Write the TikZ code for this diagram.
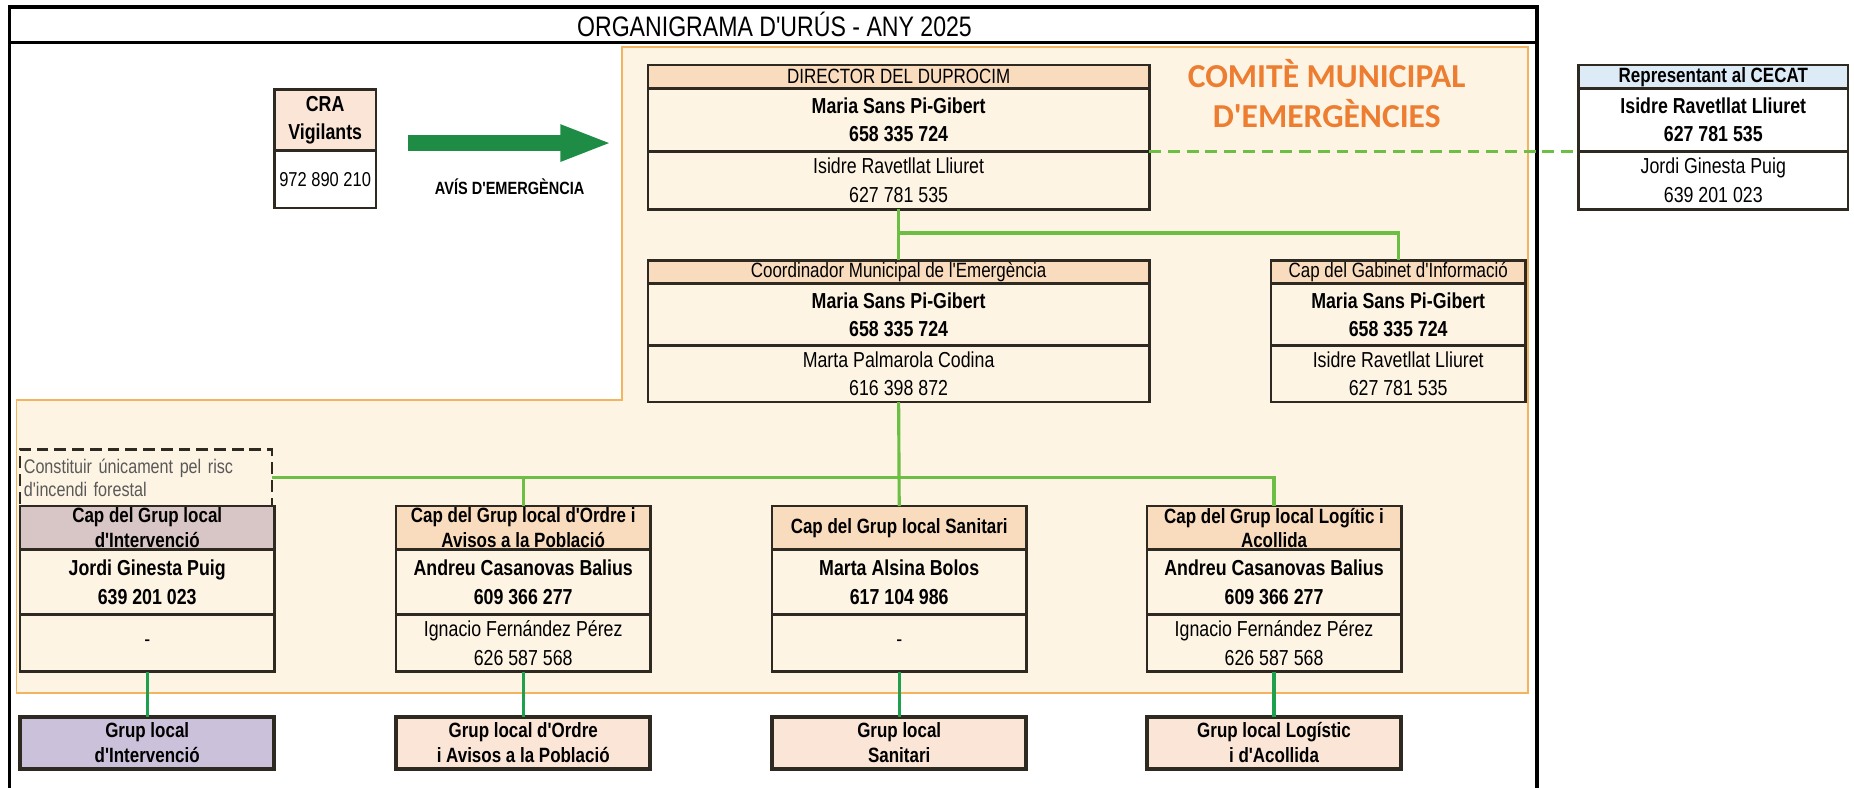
\documentclass[tikz,border=0pt]{standalone}
\usepackage{fontspec}
\setmainfont[FakeStretch=0.82, Ligatures=TeXOff]{Liberation Sans}
\newfontfamily\comitefont[Ligatures=TeXOff]{Carlito}
\usepackage{tikz}
\usetikzlibrary{positioning, arrows.meta}
\definecolor{boxline}{HTML}{2E2A22}
\definecolor{cream}{HTML}{FEF4E4}
\definecolor{comiteline}{HTML}{F4B35E}
\definecolor{peach}{HTML}{F9DCBE}
\definecolor{peachlight}{HTML}{FBE5D6}
\definecolor{mauve}{HTML}{D8C5C5}
\definecolor{lavender}{HTML}{CCC1DB}
\definecolor{skyblue}{HTML}{DDEBF7}
\definecolor{comiteorange}{HTML}{ED7D31}
\definecolor{linkgreen}{HTML}{6CBE45}
\definecolor{linkdark}{HTML}{1FA04F}
\definecolor{arrowgreen}{HTML}{1E8C45}
\tikzset{
	frame/.style={draw=black, line width=1.8pt},
	cell/.style={rectangle, draw=boxline, line width=1.4pt, fill=cream, inner xsep=1pt, inner ysep=0.5pt, outer sep=0pt, anchor=north west, align=center, font=\fontsize{11}{14.4}\selectfont},
	head/.style={cell, fill=peach, font=\fontsize{10.5}{12.6}\selectfont},
	grouphead/.style={cell, fill=peach, font=\fontsize{10.5}{12.6}\selectfont\bfseries},
	main/.style={cell, font=\fontsize{11}{14.4}\selectfont\bfseries},
	sub/.style={cell},
	grup/.style={cell, line width=2pt, fill=peachlight, minimum width=129pt, minimum height=26.4pt, font=\fontsize{10.5}{12.6}\selectfont\bfseries},
	wide/.style={minimum width=254.4pt},
	narrow/.style={minimum width=129pt},
	link/.style={draw=linkgreen, line width=1.6pt},
	linkdown/.style={draw=linkdark, line width=1.6pt},
	linkdash/.style={draw=linkgreen, line width=1.8pt, dash pattern=on 6pt off 3.5pt},
	avisarrow/.style={draw=arrowgreen, line width=8.4pt, -{Triangle[length=26.4pt,width=16.8pt]}}
}

\begin{document}
\begin{tikzpicture}[x=0.6pt, y=-0.6pt]
	\useasboundingbox (0,0) rectangle (1568,666);
	
	% Marc i titol
	\draw[frame] (8,672) -- (8,6) -- (1300,6) -- (1300,672);
	\draw[frame] (8,36) -- (1300,36);
	\node[font=\fontsize{14.3}{16}\selectfont] (titol) at (655,21) {ORGANIGRAMA D'URÚS - ANY 2025};
	
	% Zona del comite
	\draw[fill=cream, draw=comiteline, line width=0.9pt] (526,40) -- (1292,40) -- (1292,586) -- (14,586) -- (14,338) -- (526,338) -- cycle;
	\node[text=comiteorange, font=\comitefont\fontsize{17}{20.4}\selectfont\bfseries, align=center] (comite) at (1122,79) {COMITÈ MUNICIPAL\\D'EMERGÈNCIES};
	
	% CRA
	\node[cell, fill=peachlight, font=\fontsize{11}{14.4}\selectfont\bfseries, minimum width=51.6pt, minimum height=30.6pt] (craHead) at (232,76) {CRA\\Vigilants};
	\node[sub, fill=white, font=\fontsize{10.2}{12}\selectfont, minimum width=51.6pt, minimum height=29.4pt] (craTel) at (craHead.south west) {972 890 210};
	\coordinate (avisIni) at (345,121);
	\coordinate (avisFi) at (518,121);
	\draw[avisarrow] (avisIni) -- (avisFi);
	\node[font=\fontsize{9}{10}\selectfont\bfseries] (avis) at (431,158) {AVÍS D'EMERGÈNCIA};
	
	% Director
	\node[head, wide, minimum height=12pt] (dirHead) at (548,55) {DIRECTOR DEL DUPROCIM};
	\node[main, wide, minimum height=31.8pt] (dirMain) at (dirHead.south west) {Maria Sans Pi-Gibert\\658 335 724};
	\node[sub, wide, minimum height=29.4pt] (dirSub) at (dirMain.south west) {Isidre Ravetllat Lliuret\\627 781 535};
	
	% CECAT
	\node[head, fill=skyblue, font=\fontsize{10.5}{12.6}\selectfont\bfseries, minimum width=136.8pt, minimum height=12pt] (cecatHead) at (1335,55) {Representant al CECAT};
	\node[main, fill=white, minimum width=136.8pt, minimum height=31.8pt] (cecatMain) at (cecatHead.south west) {Isidre Ravetllat Lliuret\\627 781 535};
	\node[sub, fill=white, minimum width=136.8pt, minimum height=29.4pt] (cecatSub) at (cecatMain.south west) {Jordi Ginesta Puig\\639 201 023};
	
	% Coordinador
	\node[head, wide, minimum height=12pt] (coordHead) at (548,220) {Coordinador Municipal de l'Emergència};
	\node[main, wide, minimum height=31.2pt] (coordMain) at (coordHead.south west) {Maria Sans Pi-Gibert\\658 335 724};
	\node[sub, wide, minimum height=28.8pt] (coordSub) at (coordMain.south west) {Marta Palmarola Codina\\616 398 872};
	
	% Gabinet d'informacio
	\node[head, narrow, minimum height=12pt] (gabHead) at (1075,220) {Cap del Gabinet d'Informació};
	\node[main, narrow, minimum height=31.2pt] (gabMain) at (gabHead.south west) {Maria Sans Pi-Gibert\\658 335 724};
	\node[sub, narrow, minimum height=28.8pt] (gabSub) at (gabMain.south west) {Isidre Ravetllat Lliuret\\627 781 535};
	
	% Nota risc forestal
	\node[rectangle, draw=boxline, line width=1.4pt, dash pattern=on 6pt off 3pt, outer sep=0pt, anchor=north west, minimum width=127.8pt, minimum height=28.8pt, text width=124pt, inner sep=1.9pt, align=left, text=black!65, font=\fontsize{10}{12}\selectfont] (risc) at (17,380) {Constituir únicament pel risc\\d'incendi forestal};
	
	% Caps de grup
	\node[grouphead, narrow, fill=mauve, minimum height=22.2pt] (intHead) at (17,428) {Cap del Grup local\\d'Intervenció};
	\node[main, narrow, minimum height=33pt] (intMain) at (intHead.south west) {Jordi Ginesta Puig\\639 201 023};
	\node[sub, narrow, minimum height=28.8pt] (intSub) at (intMain.south west) {-};
	
	\node[grouphead, narrow, minimum height=22.2pt] (ordHead) at (335,428) {Cap del Grup local d'Ordre i\\Avisos a la Població};
	\node[main, narrow, minimum height=33pt] (ordMain) at (ordHead.south west) {Andreu Casanovas Balius\\609 366 277};
	\node[sub, narrow, minimum height=28.8pt] (ordSub) at (ordMain.south west) {Ignacio Fernández Pérez\\626 587 568};
	
	\node[grouphead, narrow, minimum height=22.2pt] (sanHead) at (653,428) {Cap del Grup local Sanitari};
	\node[main, narrow, minimum height=33pt] (sanMain) at (sanHead.south west) {Marta Alsina Bolos\\617 104 986};
	\node[sub, narrow, minimum height=28.8pt] (sanSub) at (sanMain.south west) {-};
	
	\node[grouphead, narrow, minimum height=22.2pt] (logHead) at (970,428) {Cap del Grup local Logític i\\Acollida};
	\node[main, narrow, minimum height=33pt] (logMain) at (logHead.south west) {Andreu Casanovas Balius\\609 366 277};
	\node[sub, narrow, minimum height=28.8pt] (logSub) at (logMain.south west) {Ignacio Fernández Pérez\\626 587 568};
	
	% Grups locals
	\node[grup, fill=lavender] (intGrp) at (17,606) {Grup local\\d'Intervenció};
	\node[grup] (ordGrp) at (335,606) {Grup local d'Ordre\\i Avisos a la Població};
	\node[grup] (sanGrp) at (653,606) {Grup local\\Sanitari};
	\node[grup] (logGrp) at (970,606) {Grup local Logístic\\i d'Acollida};
	
	% Connexions
	\draw[linkdash] (dirMain.south east) -- (cecatMain.south west);
	\draw[link] (dirSub.south) -- ++(0,20) coordinate (nusDir) -- (coordHead.north);
	\draw[link] (nusDir) -| (gabHead.north);
	\draw[link] (coordSub.south) -- (sanHead.north);
	\draw[link] (risc.east) -| (logHead.north);
	\draw[link] (ordHead.north) -- (ordHead.north |- risc.east);
	\draw[linkdown] (intSub.south) -- (intGrp.north);
	\draw[linkdown] (ordSub.south) -- (ordGrp.north);
	\draw[linkdown] (sanSub.south) -- (sanGrp.north);
	\draw[linkdown] (logSub.south) -- (logGrp.north);
	
\end{tikzpicture}
\end{document}
